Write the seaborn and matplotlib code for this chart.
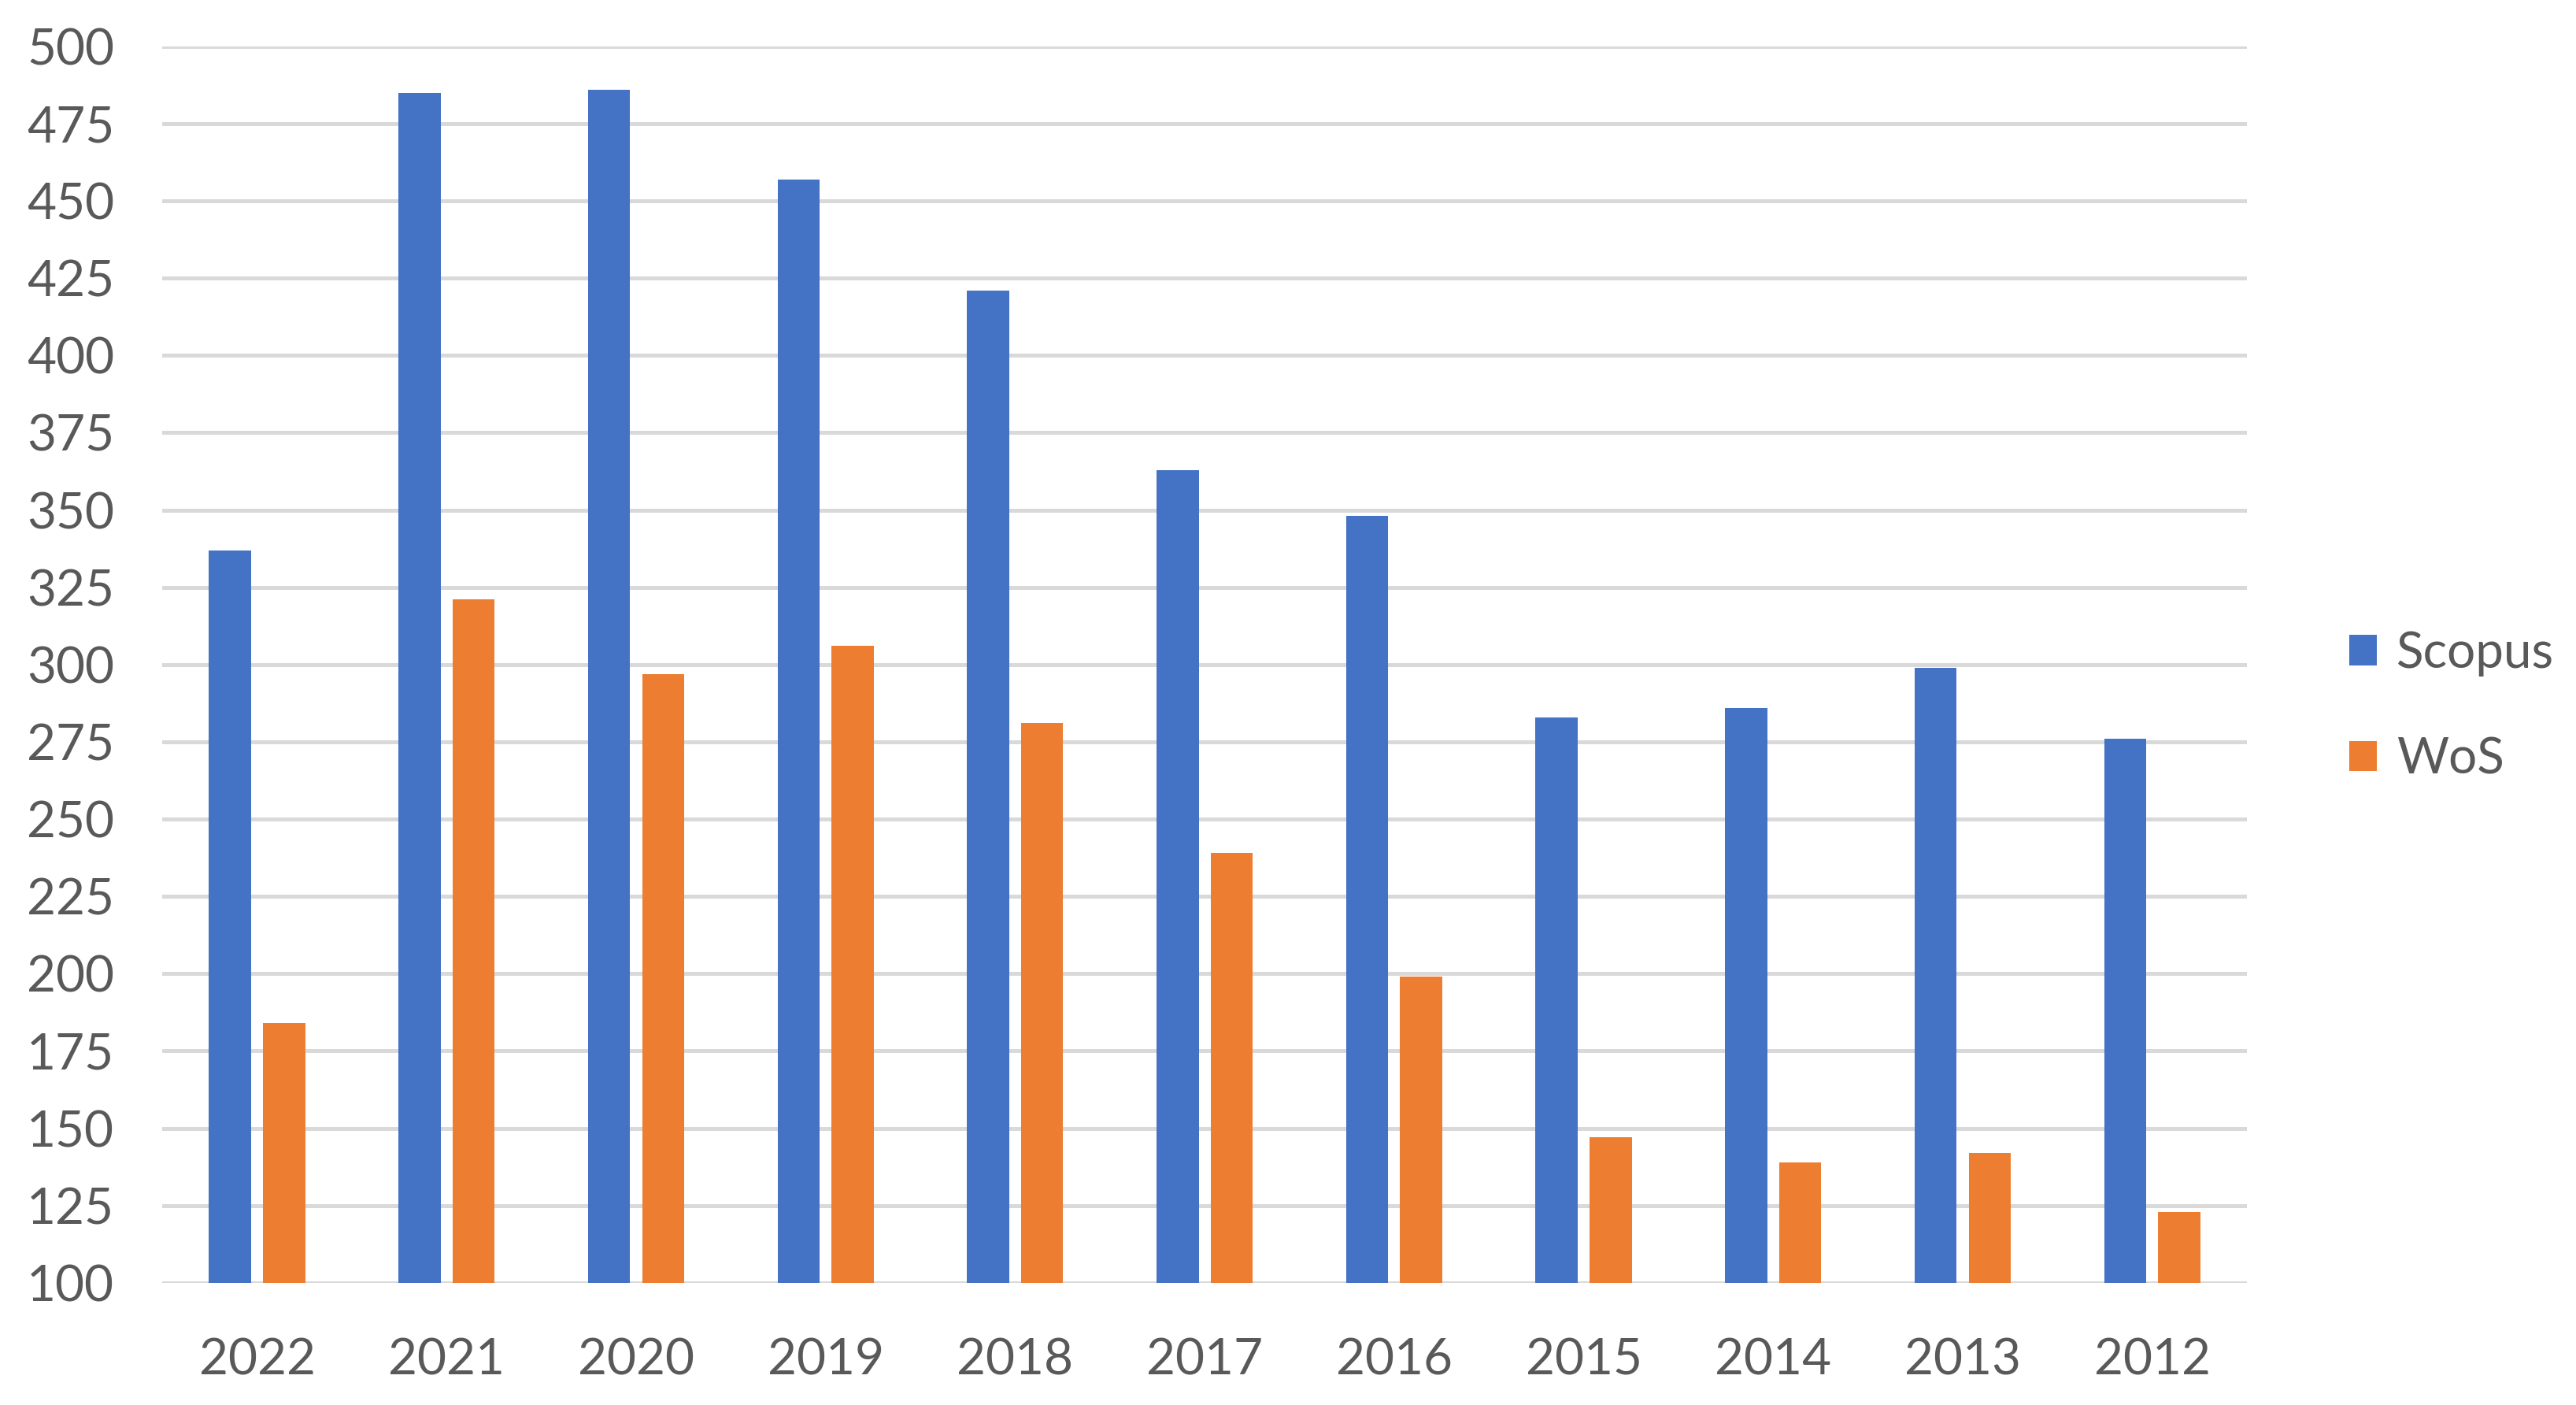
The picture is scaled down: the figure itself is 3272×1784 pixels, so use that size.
import pandas as pd
import seaborn as sns
import matplotlib.pyplot as plt

years = ['2022', '2021', '2020', '2019', '2018', '2017', '2016', '2015', '2014', '2013', '2012']
scopus = [337, 485, 486, 457, 421, 363, 348, 283, 286, 299, 276]
wos = [184, 321, 297, 306, 281, 239, 199, 147, 139, 142, 123]
y_ticks = list(range(100, 501, 25))

df = pd.DataFrame({'Year': years * 2,
                   'Count': scopus + wos,
                   'Source': ['Scopus'] * len(years) + ['WoS'] * len(years)})

sns.set_theme(style='white')
plt.rcParams['font.family'] = ['Lato', 'DejaVu Sans']
text_col = '#595959'

fig = plt.figure(figsize=(16.365, 8.92), dpi=200)
ax = fig.add_axes([0.063, 0.087, 0.809, 0.880])

sns.barplot(data=df, x='Year', y='Count', hue='Source', order=years,
            palette={'Scopus': '#4472C4', 'WoS': '#ED7D31'},
            width=0.57, gap=0.22, saturation=1, linewidth=0, ax=ax, zorder=3)

ax.set_ylim(100, 500)
ax.set_yticks(y_ticks)
ax.grid(axis='y', color='#D9D9D9', linewidth=1.8, zorder=0)
ax.set_axisbelow(True)
for s in ax.spines.values():
    s.set_visible(False)
ax.tick_params(axis='y', length=0, pad=22, labelsize=23, labelcolor=text_col)
ax.tick_params(axis='x', length=0, pad=25, labelsize=23, labelcolor=text_col)
ax.set_xlabel('')
ax.set_ylabel('')

ax.get_legend().remove()
handles, labels = ax.get_legend_handles_labels()
fig.legend(handles, labels, loc='center left', bbox_to_anchor=(0.894, 0.497),
           frameon=False, fontsize=23, labelcolor=text_col,
           handlelength=0.55, handleheight=0.55, handletextpad=0.4,
           labelspacing=1.2)

fig.savefig('out.png', dpi=200, facecolor='white')
